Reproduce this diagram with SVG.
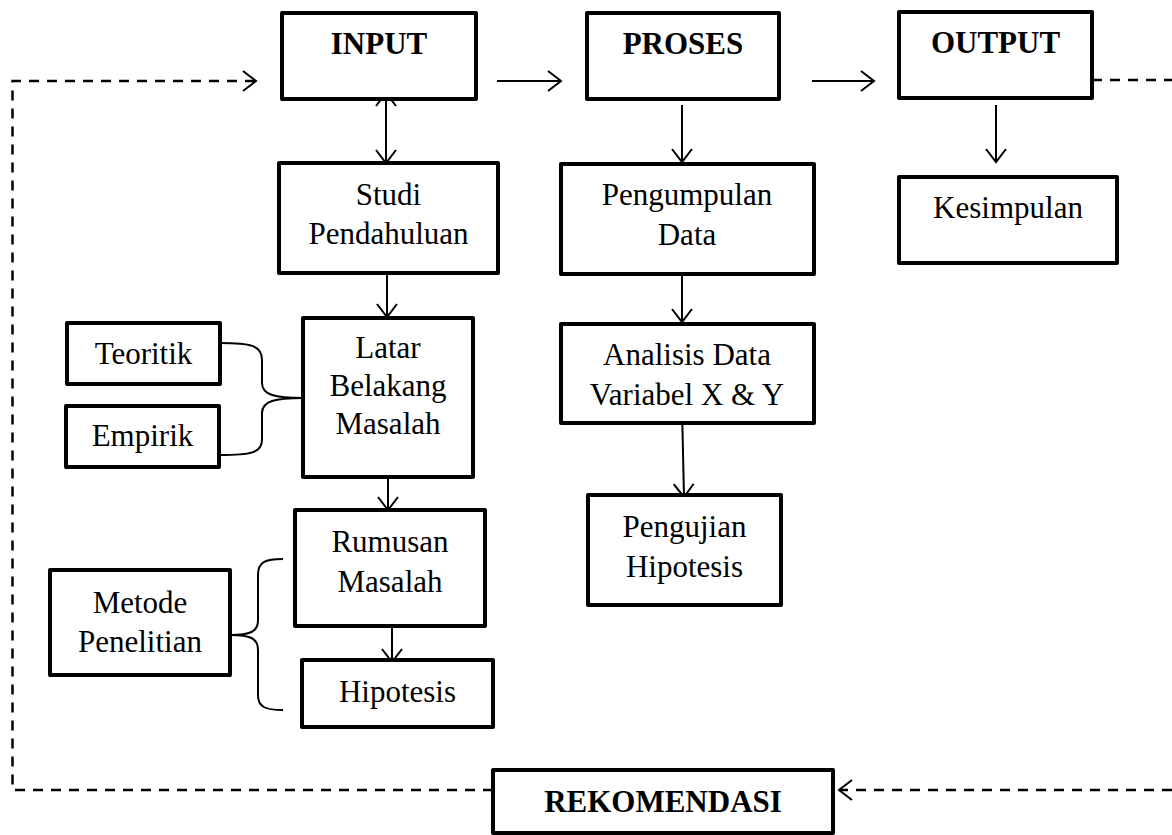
<svg xmlns="http://www.w3.org/2000/svg" width="1172" height="835" viewBox="0 0 1172 835">
<defs>
<style>
.box{fill:#fff;stroke:#000;stroke-width:4;stroke-linejoin:round}
.t{font-family:"Liberation Serif","Times New Roman",serif;font-size:31px;fill:#000;text-anchor:middle}
.b{font-weight:bold}
.ln{fill:none;stroke:#000;stroke-width:2}
.dash{fill:none;stroke:#000;stroke-width:2.5;stroke-dasharray:10 8}
.head{fill:none;stroke:#000;stroke-width:2;stroke-dasharray:none}
</style>
<marker id="ah" markerUnits="userSpaceOnUse" markerWidth="16" markerHeight="22" refX="14" refY="11" orient="auto-start-reverse" overflow="visible">
<path class="head" d="M1,1 L14,11 L1,21"/>
</marker>
</defs>
<rect x="0" y="0" width="1172" height="835" fill="#fff"/>

<g id="connectors">
<path class="dash" d="M493,790 H12.5 V81 H256" marker-end="url(#ah)"/>
<path class="dash" d="M1092,80 H1172"/>
<path class="dash" d="M1172,790 H839" marker-end="url(#ah)"/>
<path class="ln" d="M497,81 H561" marker-end="url(#ah)"/>
<path class="ln" d="M812,81 H874" marker-end="url(#ah)"/>
<path class="ln" d="M386,93 V163" marker-start="url(#ah)" marker-end="url(#ah)"/>
<path class="ln" d="M387,266 V317" marker-end="url(#ah)"/>
<path class="ln" d="M388,470 V510" marker-end="url(#ah)"/>
<path class="ln" d="M392,611 V662" marker-end="url(#ah)"/>
<path class="ln" d="M682,105 V162" marker-end="url(#ah)"/>
<path class="ln" d="M682,265 V322" marker-end="url(#ah)"/>
<path class="ln" d="M682,408 L684,497" marker-end="url(#ah)"/>
<path class="ln" d="M996,105 V162" marker-end="url(#ah)"/>
<path class="ln" d="M220,343 C250,343 262,345 262,360 L262,383 C262,395 275,398 303,398 M220,455 C250,455 262,453 262,440 L262,413 C262,401 275,398 303,398"/>
<path class="ln" d="M283,559 C265,559 258,562 258,575 L258,620 C258,632 250,635 230,635 M283,710 C265,710 258,707 258,695 L258,650 C258,638 250,635 230,635"/>
</g>

<g id="input"><rect class="box" x="282" y="13" width="194" height="86"/><text class="t b" x="379" y="54">INPUT</text></g>
<g id="proses"><rect class="box" x="587" y="13" width="192" height="86"/><text class="t b" x="683" y="54">PROSES</text></g>
<g id="output"><rect class="box" x="899" y="12" width="193" height="86"/><text class="t b" x="995.5" y="53">OUTPUT</text></g>
<g id="studi"><rect class="box" x="279" y="163" width="219" height="110"/><text class="t" x="388.5" y="205">Studi</text><text class="t" x="388.5" y="244">Pendahuluan</text></g>
<g id="pengumpulan"><rect class="box" x="561" y="164" width="253" height="110"/><text class="t" x="687" y="205">Pengumpulan</text><text class="t" x="687" y="245">Data</text></g>
<g id="kesimpulan"><rect class="box" x="899" y="177" width="218" height="86"/><text class="t" x="1008" y="218">Kesimpulan</text></g>
<g id="teoritik"><rect class="box" x="67" y="323" width="153" height="61"/><text class="t" x="143.5" y="364">Teoritik</text></g>
<g id="empirik"><rect class="box" x="66" y="406" width="153" height="61"/><text class="t" x="142.5" y="446">Empirik</text></g>
<g id="latar"><rect class="box" x="303" y="318" width="170" height="159"/><text class="t" x="388" y="358">Latar</text><text class="t" x="388" y="396">Belakang</text><text class="t" x="388" y="434">Masalah</text></g>
<g id="analisis"><rect class="box" x="561" y="324" width="253" height="99"/><text class="t" x="687" y="365">Analisis Data</text><text class="t" x="687" y="405">Variabel X &amp; Y</text></g>
<g id="rumusan"><rect class="box" x="295" y="510" width="190" height="116"/><text class="t" x="390" y="552">Rumusan</text><text class="t" x="390" y="592">Masalah</text></g>
<g id="pengujian"><rect class="box" x="588" y="495" width="193" height="110"/><text class="t" x="684.5" y="537">Pengujian</text><text class="t" x="684.5" y="577">Hipotesis</text></g>
<g id="metode"><rect class="box" x="50" y="570" width="180" height="105"/><text class="t" x="140" y="613">Metode</text><text class="t" x="140" y="652">Penelitian</text></g>
<g id="hipotesis"><rect class="box" x="302" y="660" width="191" height="67"/><text class="t" x="397.5" y="702">Hipotesis</text></g>
<g id="rekomendasi"><rect class="box" x="493" y="770" width="340" height="63"/><text class="t b" x="663" y="812">REKOMENDASI</text></g>
</svg>
